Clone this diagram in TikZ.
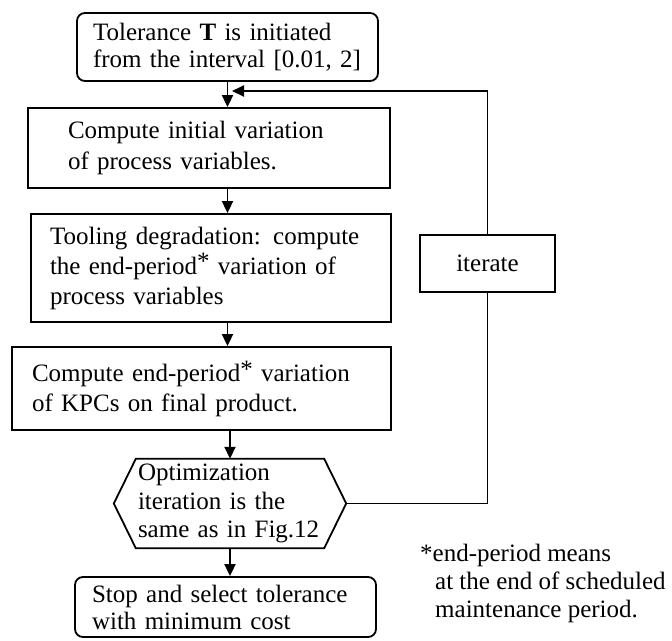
\documentclass[tikz,border=0pt]{standalone}
\usepackage{fontspec}
\setmainfont{Liberation Serif}
\usetikzlibrary{arrows.meta}
\newcommand{\fnmark}{\raisebox{0.35ex}{*}}
\begin{document}
\begin{tikzpicture}[x=1pt,y=-1pt,
  every node/.style={font=\fontsize{25}{27}\selectfont},
  box/.style={draw, line width=1.8pt, inner ysep=0pt, align=left},
  rbox/.style={box, rounded corners=8pt},
  link/.style={line width=1.8pt},
  arr/.style={link, -{Triangle[length=12pt,width=11pt]}},
]
\useasboundingbox (0,0) rectangle (672,640);

% main column of steps
\node[rbox, text width=269pt, inner xsep=16pt, minimum height=68pt]
  (init) at (227.5,47) {Tolerance \textbf{T} is initiated\\from the interval [0.01, 2]};
\node[box, text width=282pt, inner xsep=40pt, minimum height=80pt,
  font=\fontsize{25}{31}\selectfont]
  (cvar) at (209,148) {Compute initial variation\\of process variables.};
\node[box, text width=322pt, inner xsep=19pt, minimum height=108pt,
  font=\fontsize{25}{30}\selectfont]
  (tool) at (211,268) {Tooling degradation: compute\\the end-period\fnmark{} variation of\\process variables};
\node[box, text width=339pt, inner xsep=20pt, minimum height=83pt,
  font=\fontsize{25}{30}\selectfont]
  (kpc) at (201.5,388.5) {Compute end-period\fnmark{} variation\\of KPCs on final product.};

% decision step drawn as a hexagon around its text
\node[align=left, text width=184pt, inner xsep=2pt, inner ysep=0pt, minimum height=89pt,
  font=\fontsize{25}{28.5}\selectfont]
  (opt) at (230,503.5) {Optimization\\iteration is the\\same as in Fig.12};
\coordinate (optL) at ([xshift=-22pt]opt.west);
\coordinate (optR) at ([xshift=22pt]opt.east);
\draw[link] (optL) -- (opt.north west) -- (opt.north east) -- (optR)
  -- (opt.south east) -- (opt.south west) -- cycle;

\node[rbox, text width=267pt, inner xsep=17pt, minimum height=60pt]
  (stop) at (225.5,607) {Stop and select tolerance\\with minimum cost};

% loop-back box
\node[box, minimum width=135pt, minimum height=57pt] (iter) at (487.5,263.5) {iterate};

% footnote
\node[anchor=north west, align=left, inner sep=0pt, font=\fontsize{25}{28}\selectfont]
  (note) at (420,544) {*end-period means\\\hspace*{15pt}at the end of scheduled\\\hspace*{15pt}maintenance period.};

% connectors
\coordinate (back) at (232,91);
\draw[arr] (init.south) -- (init.south |- cvar.north);
\draw[arr] (cvar.south -| init.south) -- (tool.north -| init.south);
\draw[arr] (tool.south -| init.south) -- (kpc.north -| init.south);
\draw[arr] (kpc.south -| opt.north) -- (opt.north);
\draw[arr] (opt.south) -- (opt.south |- stop.north);
\draw[link] (optR) -| (iter.south);
\draw[arr] (iter.north) |- (back);
\end{tikzpicture}
\end{document}
